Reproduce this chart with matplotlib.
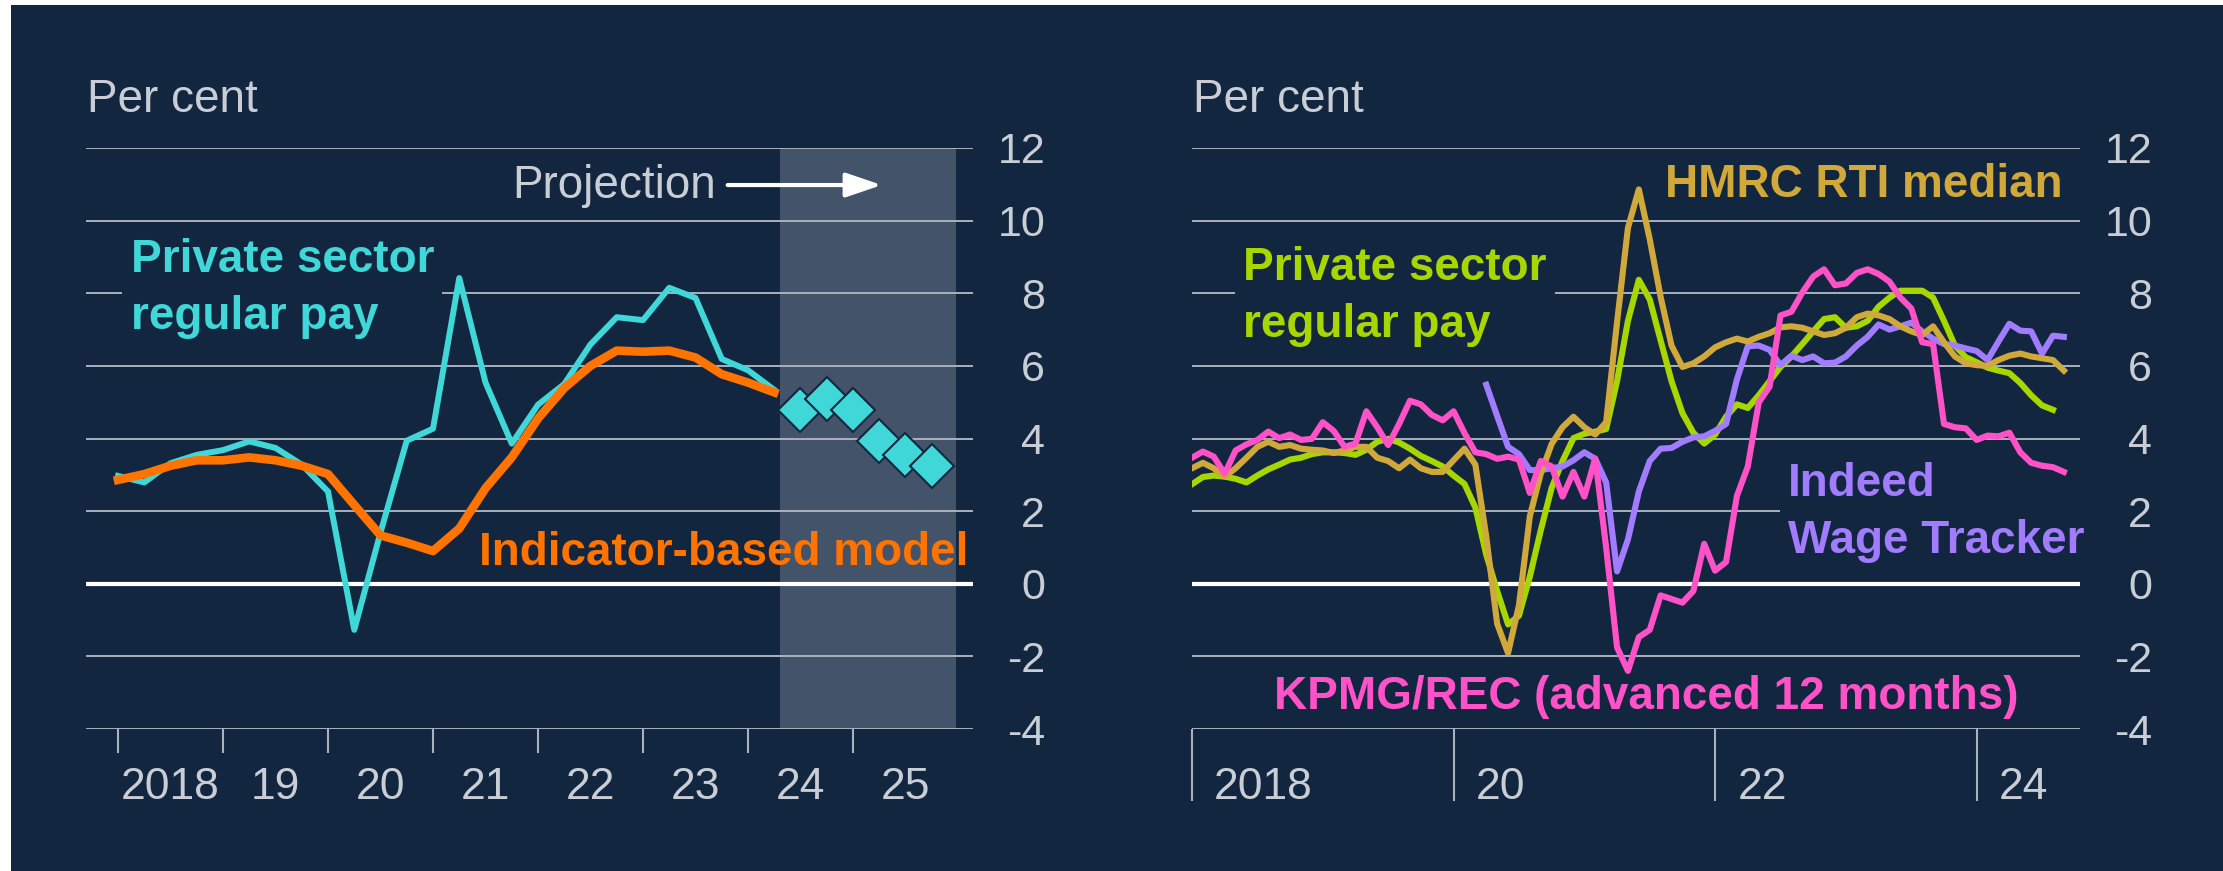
import numpy as np
import matplotlib
matplotlib.use("Agg")
import matplotlib.pyplot as plt
from matplotlib.patches import Rectangle

plt.rcParams['font.family'] = ['Liberation Sans', 'DejaVu Sans']

# ---- colours
NAVY = '#13263f'
GRID = '#a9b1bd'
TXT = '#c9ced6'
CYAN = '#3fd7d8'
ORANGE = '#ff7300'
SHADE = '#43536a'
LIME = '#a8d600'
GOLD = '#d0a93a'
PINK = '#ff52c8'
PURPLE = '#a27cff'

# ---- left panel data (quarterly, 2018 Q1 - 2024 Q2)
private_pay_q = [2.97, 2.79, 3.32, 3.55, 3.68, 3.92, 3.74, 3.28, 2.54, -1.27,
                 1.41, 3.94, 4.27, 8.42, 5.54, 3.86, 4.93, 5.50, 6.59, 7.34,
                 7.26, 8.15, 7.87, 6.19, 5.88, 5.34]
indicator_model = [2.86, 3.02, 3.25, 3.40, 3.40, 3.48, 3.40, 3.25, 3.02, 2.17,
                   1.33, 1.13, 0.90, 1.52, 2.63, 3.48, 4.55, 5.39, 6.00, 6.42,
                   6.39, 6.42, 6.23, 5.77, 5.54, 5.27]
# projections 2024 Q3 - 2025 Q4
projection = [4.78, 5.08, 4.78, 3.94, 3.55, 3.25]
left_years = ['2018', '19', '20', '21', '22', '23', '24', '25']

# ---- right panel data (monthly, from Jan 2018)
private_pay_m = [2.74, 2.94, 2.98, 2.95, 2.89, 2.79, 2.98, 3.15, 3.28, 3.42,
                 3.47, 3.57, 3.62, 3.62, 3.60, 3.55, 3.69, 3.91, 3.99, 3.89,
                 3.72, 3.52, 3.38, 3.23, 2.98, 2.75, 2.10, 0.80, -0.20, -1.12,
                 -0.88, 0.20, 1.47, 2.64, 3.38, 4.01, 4.13, 4.19, 4.26, 5.58,
                 7.24, 8.37, 7.83, 6.70, 5.58, 4.70, 4.16, 3.86, 4.11, 4.60,
                 4.94, 4.84, 5.19, 5.58, 5.97, 6.26, 6.60, 6.95, 7.29, 7.34,
                 7.05, 7.09, 7.24, 7.63, 7.88, 8.07, 8.07, 8.07, 7.88, 7.24,
                 6.56, 6.24, 6.10, 5.95, 5.87, 5.80, 5.53, 5.19, 4.91, 4.79]
hmrc_rti = [3.18, 3.33, 3.18, 2.95, 3.18, 3.47, 3.77, 3.91, 3.77, 3.82,
            3.72, 3.69, 3.67, 3.60, 3.67, 3.77, 3.77, 3.47, 3.38, 3.18,
            3.42, 3.18, 3.08, 3.08, 3.40, 3.72, 3.28, 1.30, -1.10, -1.91,
            -0.59, 1.86, 3.03, 3.85, 4.31, 4.60, 4.31, 4.11, 4.45, 7.20,
            9.80, 10.86, 9.49, 7.90, 6.56, 5.97, 6.07, 6.26, 6.51, 6.65,
            6.75, 6.67, 6.80, 6.90, 7.06, 7.09, 7.05, 6.95, 6.85, 6.90,
            7.05, 7.34, 7.44, 7.39, 7.29, 7.09, 6.95, 6.85, 7.09, 6.65,
            6.26, 6.07, 6.02, 6.00, 6.16, 6.28, 6.34, 6.26, 6.21, 6.16, 5.87]
kpmg_rec = [3.47, 3.64, 3.50, 3.03, 3.67, 3.84, 3.96, 4.19, 4.01, 4.11,
            3.96, 3.99, 4.45, 4.21, 3.77, 3.86, 4.75, 4.31, 3.82, 4.40,
            5.04, 4.94, 4.65, 4.50, 4.75, 4.15, 3.62, 3.57, 3.44, 3.50,
            3.42, 2.50, 3.38, 3.23, 2.40, 3.08, 2.40, 3.45, 1.00, -1.75,
            -2.40, -1.47, -1.27, -0.32, -0.42, -0.52, -0.20, 1.10, 0.36, 0.60,
            2.42, 3.23, 4.99, 5.43, 7.39, 7.49, 8.02, 8.46, 8.66, 8.22,
            8.27, 8.56, 8.66, 8.53, 8.32, 7.88, 7.58, 6.65, 6.60, 4.40,
            4.31, 4.28, 3.96, 4.08, 4.06, 4.16, 3.62, 3.33, 3.25, 3.21, 3.08]
# Indeed starts in April 2020 (month index 27)
indeed_start = 27
indeed = [5.48, 4.62, 3.77, 3.57, 3.13, 3.13, 3.18, 3.23, 3.40, 3.62,
          3.44, 2.79, 0.34, 1.22, 2.54, 3.38, 3.72, 3.74, 3.91, 4.03,
          4.06, 4.21, 4.40, 5.63, 6.54, 6.56, 6.44, 6.02, 6.28, 6.16,
          6.26, 6.07, 6.09, 6.26, 6.56, 6.80, 7.14, 7.00, 7.09, 7.19,
          6.95, 6.75, 6.60, 6.56, 6.48, 6.41, 6.16, 6.67, 7.16, 6.97,
          6.95, 6.34, 6.83, 6.80]
right_years = ['2018', '20', '22', '24']

yticks = [-4, -2, 0, 2, 4, 6, 8, 10, 12]
ylabels = ['-4', '-2', '0', '2', '4', '6', '8', '10', '12']

W, H = 2223, 871
fig = plt.figure(figsize=(W / 100, H / 100), dpi=100, facecolor='white')
fig.patches.append(Rectangle((11 / W, 0), 1, (H - 5) / H, transform=fig.transFigure,
                             facecolor=NAVY, edgecolor='none', zorder=-10))

ax1 = fig.add_axes([86 / W, (H - 729) / H, (973 - 86) / W, (729 - 148) / H])
ax2 = fig.add_axes([1192 / W, (H - 729) / H, (2080 - 1192) / W, (729 - 148) / H])


def style(ax):
    ax.set_facecolor('none')
    for s in ax.spines.values():
        s.set_visible(False)
    ax.set_ylim(-4, 12)
    ax.yaxis.tick_right()
    ax.set_yticks(yticks, ylabels)
    ax.tick_params(axis='y', length=0, pad=52, labelsize=31, labelcolor=TXT)
    for lab in ax.get_yticklabels():
        lab.set_horizontalalignment('right')
    ax.set_axisbelow(True)
    ax.grid(axis='y', color=GRID, lw=1.4)
    ax.grid(axis='x', visible=False)
    ax.axhline(0, color='white', lw=3, zorder=0.6)


style(ax1)
style(ax2)

# ---- left panel
xq = 2018 + np.arange(len(private_pay_q)) / 4
xp = 2024.5 + np.arange(len(projection)) / 4
ax1.set_xlim(2017.695, 2026.143)
ax1.axvspan(2024.305, 2025.978, color=SHADE, lw=0, zorder=0.2)
ax1.plot(xq, private_pay_q, color=CYAN, lw=4.3, zorder=3)
ax1.plot(xq, indicator_model, color=ORANGE, lw=6.2, zorder=4)
ax1.plot(xp, projection, ls='none', marker='D', ms=22, mfc=CYAN, mec=NAVY,
         mew=1.5, zorder=5)

yrs = np.arange(2018, 2026)
ax1.set_xticks(yrs, [''] * len(yrs))
ax1.set_xticks(yrs + 0.5, left_years, minor=True)
ax1.tick_params(axis='x', which='major', length=17, width=1.5, color=GRID, direction='out')
ax1.tick_params(axis='x', which='minor', length=0, pad=27, labelsize=32, labelcolor=TXT)

ax1.text(2018.12, 8.12, 'Private sector\nregular pay', color=CYAN, fontsize=33,
         fontweight='bold', ha='left', va='center', linespacing=1.38, zorder=1,
         bbox=dict(facecolor=NAVY, edgecolor='none', pad=6))
ax1.text(2026.10, 0.86, 'Indicator-based model', color=ORANGE, fontsize=33,
         fontweight='bold', ha='right', va='center', zorder=6)
ax1.text(2023.70, 10.95, 'Projection', color=TXT, fontsize=33, ha='right', va='center')
ax1.annotate('', xy=(2025.30, 10.98), xytext=(2023.78, 10.98),
             arrowprops=dict(arrowstyle='-|>,head_length=2.2,head_width=0.75',
                             color='white', lw=3))

# ---- right panel
xm = 2018 + np.arange(len(hmrc_rti)) / 12
ax2.set_xlim(2018, 2024.79)
ax2.plot(xm[:len(private_pay_m)], private_pay_m, color=LIME, lw=4.4, zorder=3)
ax2.plot(xm[indeed_start:indeed_start + len(indeed)], indeed, color=PURPLE, lw=4.4, zorder=4)
ax2.plot(xm, hmrc_rti, color=GOLD, lw=4.4, zorder=5)
ax2.plot(xm, kpmg_rec, color=PINK, lw=4.4, zorder=6)

ryrs = np.array([2018, 2020, 2022, 2024])
ax2.set_xticks(ryrs, [''] * len(ryrs))
ax2.set_xticks(ryrs + 0.17, right_years, minor=True)
ax2.tick_params(axis='x', which='major', length=52, width=1.5, color=GRID, direction='out')
ax2.tick_params(axis='x', which='minor', length=0, pad=27, labelsize=32, labelcolor=TXT)
for lab in ax2.get_xticklabels(minor=True):
    lab.set_horizontalalignment('left')

ax2.text(2021.62, 10.99, 'HMRC RTI median', color=GOLD, fontsize=33,
         fontweight='bold', ha='left', va='center', zorder=1)
ax2.text(2018.39, 7.91, 'Private sector\nregular pay', color=LIME, fontsize=33,
         fontweight='bold', ha='left', va='center', linespacing=1.38, zorder=1,
         bbox=dict(facecolor=NAVY, edgecolor='none', pad=6))
ax2.text(2022.56, 1.95, 'Indeed\nWage Tracker', color=PURPLE, fontsize=33,
         fontweight='bold', ha='left', va='center', linespacing=1.38, zorder=1,
         bbox=dict(facecolor=NAVY, edgecolor='none', pad=6))
ax2.text(2018.63, -3.13, 'KPMG/REC (advanced 12 months)', color=PINK, fontsize=33,
         fontweight='bold', ha='left', va='center', zorder=1)

fig.text(87 / W, 1 - 112 / H, 'Per cent', color=TXT, fontsize=33, va='baseline')
fig.text(1193 / W, 1 - 112 / H, 'Per cent', color=TXT, fontsize=33, va='baseline')

fig.savefig('out.png', dpi=100, facecolor=fig.get_facecolor())
